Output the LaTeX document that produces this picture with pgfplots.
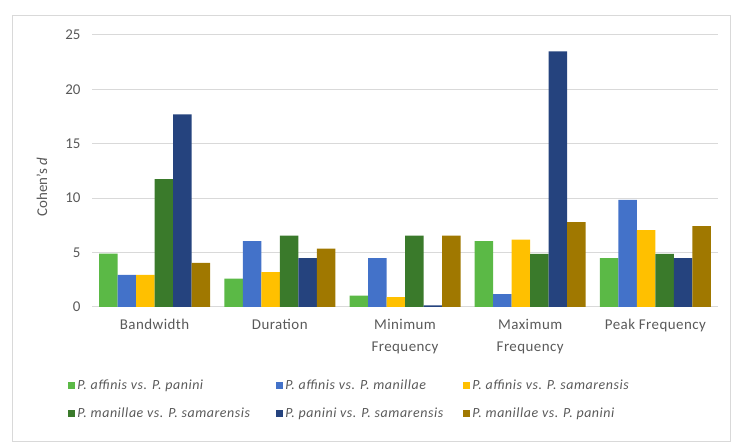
\documentclass[border=0pt]{standalone}
\usepackage{pgfplots}
\pgfplotsset{compat=1.18}
\usepackage{fontspec}
\setmainfont{Carlito}
\definecolor{cA}{HTML}{5BB946}
\definecolor{cB}{HTML}{4372C9}
\definecolor{cC}{HTML}{FFC000}
\definecolor{cD}{HTML}{3A7A2B}
\definecolor{cE}{HTML}{25437E}
\definecolor{cF}{HTML}{A07800}
\definecolor{tickgray}{HTML}{595959}
\definecolor{gridgray}{HTML}{D9D9D9}
\begin{document}
\begin{tikzpicture}
\useasboundingbox (0,0) rectangle (735bp,447bp);
\draw[gridgray, line width=1bp] (12bp,5bp) rectangle (730bp,431bp);
\begin{axis}[
  at={(92bp,140bp)}, anchor=south west,
  width=626bp, height=272bp, scale only axis,
  ymin=0, ymax=25, ytick={0,5,...,25},
  xmin=-0.5, xmax=4.5,
  xtick={0,1,2,3,4},
  xticklabels={Bandwidth, Duration, {Minimum\\Frequency}, {Maximum\\Frequency}, Peak Frequency},
  xticklabel style={align=center, text=tickgray, font=\fontsize{15}{22}\selectfont\addfontfeature{LetterSpace=3}, yshift=-9bp},
  yticklabel style={text=tickgray, font=\fontsize{15}{16}\selectfont, xshift=-8bp},
  /pgf/number format/assume math mode=true,
  major tick length=0pt,
  ymajorgrids, grid style={gridgray, line width=1bp},
  axis x line*=bottom, axis y line*=left,
  x axis line style={gridgray, line width=1bp, -},
  y axis line style={draw=none},
  ybar=0pt, bar width=18.5bp,
  ylabel={Cohen's \textit{d}},
  ylabel style={text=tickgray, font=\fontsize{15}{16}\selectfont, at={(axis description cs:-0.066,0.44)}},
  legend columns=3,
  legend cell align=left,
  legend style={at={(-0.038,-0.26)}, anchor=north west, draw=none, fill=none,
    font=\fontsize{14}{15}\itshape\selectfont\addfontfeature{LetterSpace=4}, text=tickgray,
    inner sep=0pt, row sep=13bp, column sep=0bp},
  legend image code/.code={\fill[#1] (0bp,-3.5bp) rectangle (7bp,3.5bp);},
]
\addplot[fill=cA, draw=none] coordinates {(0,4.9) (1,2.6) (2,1.05) (3,6.05) (4,4.5)};
\addplot[fill=cB, draw=none] coordinates {(0,2.95) (1,6.05) (2,4.5) (3,1.18) (4,9.85)};
\addplot[fill=cC, draw=none] coordinates {(0,2.95) (1,3.2) (2,0.9) (3,6.2) (4,7.07)};
\addplot[fill=cD, draw=none] coordinates {(0,11.76) (1,6.57) (2,6.55) (3,4.88) (4,4.88)};
\addplot[fill=cE, draw=none] coordinates {(0,17.7) (1,4.5) (2,0.15) (3,23.5) (4,4.5)};
\addplot[fill=cF, draw=none] coordinates {(0,4.05) (1,5.37) (2,6.55) (3,7.8) (4,7.43)};
\legend{\makebox[197bp][l]{P. affinis vs. P. panini},
        \makebox[176bp][l]{P. affinis vs. P. manillae},
        P. affinis vs. P. samarensis,
        \makebox[197bp][l]{P. manillae vs. P. samarensis},
        \makebox[176bp][l]{P. panini vs. P. samarensis},
        P. manillae vs. P. panini}
\end{axis}
\end{tikzpicture}
\end{document}
